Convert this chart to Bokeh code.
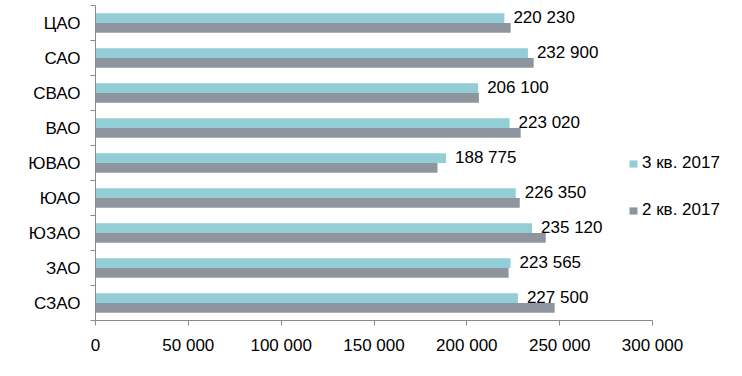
from bokeh.plotting import figure
from bokeh.models import (ColumnDataSource, Range1d, LinearAxis,
                          FixedTicker, CustomJSTickFormatter, Legend, LegendItem)
from bokeh.transform import dodge
from bokeh.core.properties import value
from bokeh.embed import file_html
from bokeh.resources import INLINE

# ---- data ----
districts = ["ЦАО", "САО", "СВАО", "ВАО", "ЮВАО", "ЮАО", "ЮЗАО", "ЗАО", "СЗАО"]
q3_2017 = [220230, 232900, 206100, 223020, 188775, 226350, 235120, 223565, 227500]
q2_2017 = [223600, 236000, 206500, 229000, 184200, 228500, 242500, 222500, 247300]
series_names = ["3 кв. 2017", "2 кв. 2017"]
x_ticks = [0, 50000, 100000, 150000, 200000, 250000, 300000]

FONT = "Liberation Sans"
FS = "17px"
TEAL = "#93CDD6"
GRAY = "#8F959E"
AXIS = "#8A8A8A"

n = len(districts)
ypos = [n - 0.5 - i for i in range(n)]  # category slot centres, first category on top

# layout: frame spans 95..737 px, axis (0..300000) spans 95..652 px
W, H = 742, 376
LEFT, RIGHT_BORDER = 95, 5
frame_w = W - LEFT - RIGHT_BORDER
axis_px = 557
x_max = x_ticks[-1]
x_end = x_max * frame_w / axis_px

src = ColumnDataSource(dict(
    cat=districts,
    y=ypos,
    q3=q3_2017,
    q2=q2_2017,
    q3_label=[f"{v:,}".replace(",", " ") for v in q3_2017],
))

p = figure(width=W, height=H, output_backend="svg", toolbar_location=None,
           y_range=Range1d(0, n), x_range=Range1d(0, x_end),
           x_axis_location=None, y_axis_location=None,
           min_border_left=LEFT, min_border_right=RIGHT_BORDER,
           min_border_top=5, min_border_bottom=56)
p.outline_line_color = None
p.xgrid.grid_line_color = None
p.ygrid.grid_line_color = None
p.background_fill_color = "white"
p.border_fill_color = "white"

r3 = p.hbar(y=dodge("y", 0.14), right="q3", height=0.28,
            source=src, fill_color=TEAL, line_color=None)
r2 = p.hbar(y=dodge("y", -0.14), right="q2", height=0.28,
            source=src, fill_color=GRAY, line_color=None)

p.text(x="q3", y=dodge("y", 0.17), text="q3_label", source=src,
       x_offset=9, text_baseline="middle", text_align="left",
       text_font=value(FONT), text_font_size=value(FS), text_color="black")

# boundary tick axis (closest to frame)
bax = LinearAxis(ticker=FixedTicker(ticks=list(range(n + 1))),
                 formatter=CustomJSTickFormatter(code="return ''"))
bax.axis_line_color = AXIS
bax.major_tick_line_color = AXIS
bax.major_tick_out = 5
bax.major_tick_in = 0
bax.minor_tick_line_color = None
bax.major_label_standoff = 0
bax.major_label_text_font_size = "1px"
p.add_layout(bax, "left")

# category label axis
cax = LinearAxis(ticker=FixedTicker(ticks=ypos),
                 major_label_overrides={y: d for y, d in zip(ypos, districts)})
cax.axis_line_color = None
cax.major_tick_line_color = None
cax.minor_tick_line_color = None
cax.major_tick_out = 0
cax.major_tick_in = 0
cax.major_label_standoff = 10
cax.major_label_text_font = FONT
cax.major_label_text_font_size = FS
cax.major_label_text_color = "black"
p.add_layout(cax, "left")

xax = LinearAxis(ticker=FixedTicker(ticks=x_ticks), bounds=(0, x_max),
                 formatter=CustomJSTickFormatter(
                     code="return Math.round(tick).toString().replace(/\\B(?=(\\d{3})+(?!\\d))/g, ' ');"))
xax.axis_line_color = AXIS
xax.major_tick_line_color = AXIS
xax.major_tick_out = 5
xax.major_tick_in = 0
xax.minor_tick_line_color = None
xax.major_label_standoff = 10
xax.major_label_text_font = FONT
xax.major_label_text_font_size = FS
xax.major_label_text_color = "black"
p.add_layout(xax, "below")

legend = Legend(items=[LegendItem(label=series_names[0], renderers=[r3]),
                       LegendItem(label=series_names[1], renderers=[r2])],
                location=(533, 100))
legend.border_line_color = None
legend.background_fill_alpha = 0
legend.padding = 0
legend.margin = 0
legend.spacing = 27
legend.glyph_width = 10
legend.glyph_height = 9
legend.label_height = 20
legend.label_standoff = 4
legend.label_text_font = FONT
legend.label_text_font_size = FS
legend.label_text_color = "black"
p.add_layout(legend)

open("out.html", "w").write(file_html(p, INLINE))
